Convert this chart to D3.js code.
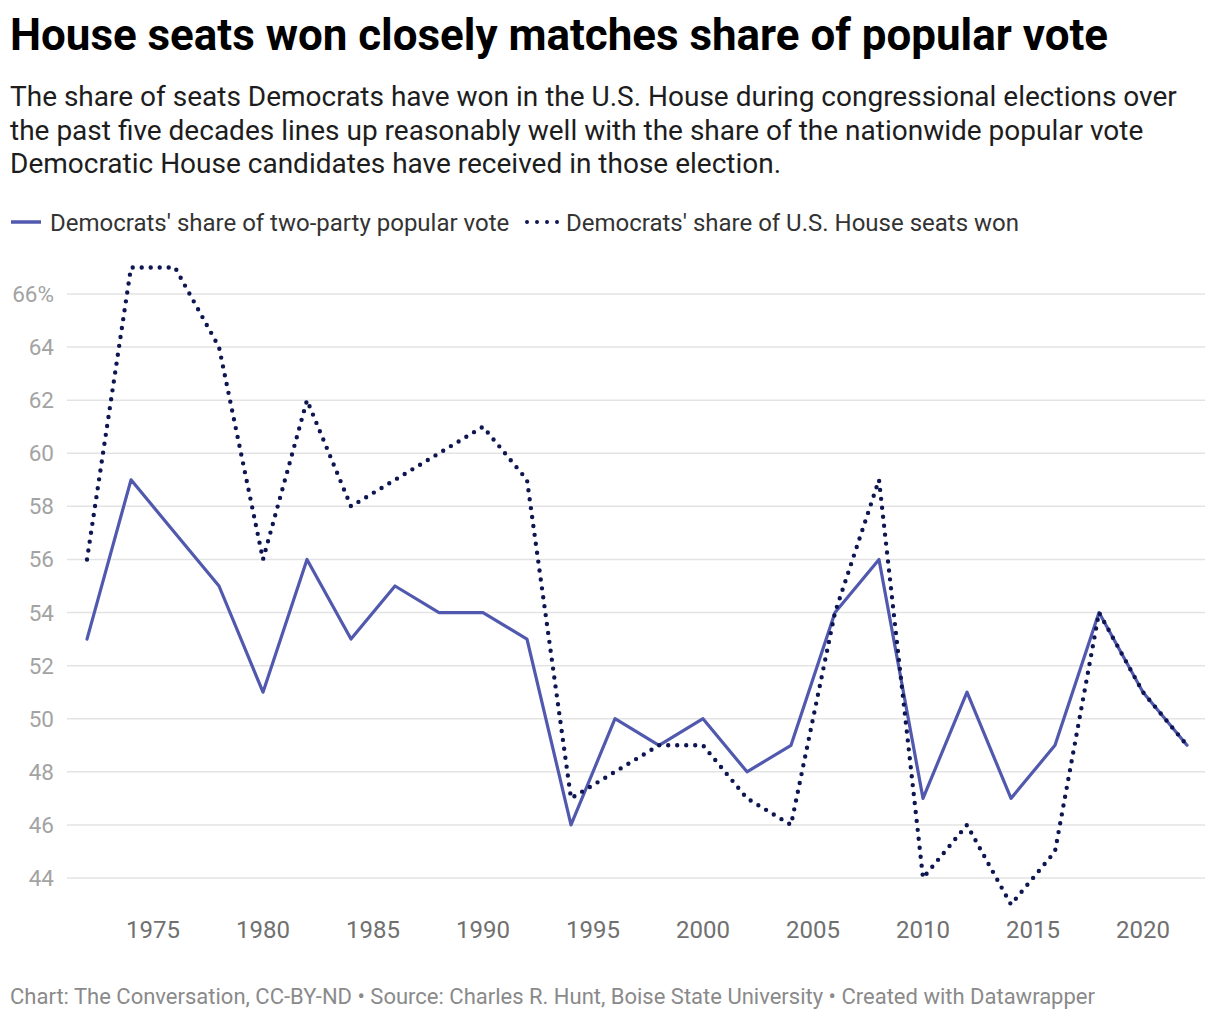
<!DOCTYPE html>
<html><head><meta charset="utf-8">
<script src="https://cdn.jsdelivr.net/npm/d3@7"></script>
<style>
body{margin:0;background:#fff;font-family:Roboto,"Noto Sans",sans-serif;}
</style></head>
<body>
<svg id="c" width="1220" height="1020"></svg>
<script>
const years = [1972,1974,1976,1978,1980,1982,1984,1986,1988,1990,1992,1994,1996,1998,2000,2002,2004,2006,2008,2010,2012,2014,2016,2018,2020,2022];
const popularVote = [53,59,57,55,51,56,53,55,54,54,53,46,50,49,50,48,49,54,56,47,51,47,49,54,51,49];
const seatsWon = [56,67,67,64,56,62,58,59,60,61,59,47,48,49,49,47,46,54,59,44,46,43,45,54,51,49];
const yTicks = [44,46,48,50,52,54,56,58,60,62,64,66];
const xTicks = [1975,1980,1985,1990,1995,2000,2005,2010,2015,2020];
const seriesNames = ["Democrats' share of two-party popular vote","Democrats' share of U.S. House seats won"];

const svg = d3.select("#c");
svg.append("text").attr("x",10).attr("y",50).attr("font-size",44).attr("font-weight",700).attr("fill","#000")
  .attr("textLength",1098).attr("lengthAdjust","spacingAndGlyphs")
  .text("House seats won closely matches share of popular vote");
const sub = ["The share of seats Democrats have won in the U.S. House during congressional elections over",
 "the past five decades lines up reasonably well with the share of the nationwide popular vote",
 "Democratic House candidates have received in those election."];
sub.forEach((s,i)=>svg.append("text").attr("x",10).attr("y",106+i*33.5).attr("font-size",28).attr("fill","#1d1d1d").text(s));

// legend
const lg = svg.append("g");
lg.append("line").attr("x1",11).attr("x2",41).attr("y1",222).attr("y2",222).attr("stroke","#5159ae").attr("stroke-width",3.5);
lg.append("text").attr("x",50).attr("y",231).attr("font-size",24).attr("fill","#333").text(seriesNames[0]);
lg.append("line").attr("x1",527).attr("x2",558).attr("y1",222).attr("y2",222).attr("stroke","#0d1650").attr("stroke-width",4)
  .attr("stroke-dasharray","0,10").attr("stroke-linecap","round");
lg.append("text").attr("x",566).attr("y",231).attr("font-size",24).attr("fill","#333").text(seriesNames[1]);

const x = d3.scaleLinear().domain([1972,2022]).range([87,1187]);
const y = d3.scaleLinear().domain([44,66]).range([878,294]);

const grid = svg.append("g");
grid.selectAll("line").data(yTicks).join("line")
  .attr("x1",67).attr("x2",1205).attr("y1",d=>y(d)).attr("y2",d=>y(d))
  .attr("stroke","#e3e3e3").attr("stroke-width",1.5);
grid.selectAll("text").data(yTicks).join("text")
  .attr("x",54).attr("y",d=>y(d)+8).attr("text-anchor","end").attr("font-size",22.5).attr("fill","#a3a3a3")
  .text(d=>d===66?d+"%":d);

const xa = svg.append("g");
xa.selectAll("text").data(xTicks).join("text")
  .attr("x",d=>x(d)).attr("y",938).attr("text-anchor","middle").attr("font-size",24).attr("fill","#707070")
  .text(d=>d);

const line = d3.line().x((d,i)=>x(years[i])).y(d=>y(d));
svg.append("path").datum(popularVote).attr("d",line).attr("fill","none")
  .attr("stroke","#5159ae").attr("stroke-width",3.2).attr("stroke-linejoin","round").attr("stroke-linecap","round");
svg.append("path").datum(seatsWon).attr("d",line).attr("fill","none")
  .attr("stroke","#0d1650").attr("stroke-width",4.4).attr("stroke-dasharray","0,9").attr("stroke-linecap","round");

svg.append("text").attr("x",10).attr("y",1004).attr("font-size",22).attr("fill","#8a8a8a")
  .text("Chart: The Conversation, CC-BY-ND • Source: Charles R. Hunt, Boise State University • Created with Datawrapper");
</script>
</body></html>
